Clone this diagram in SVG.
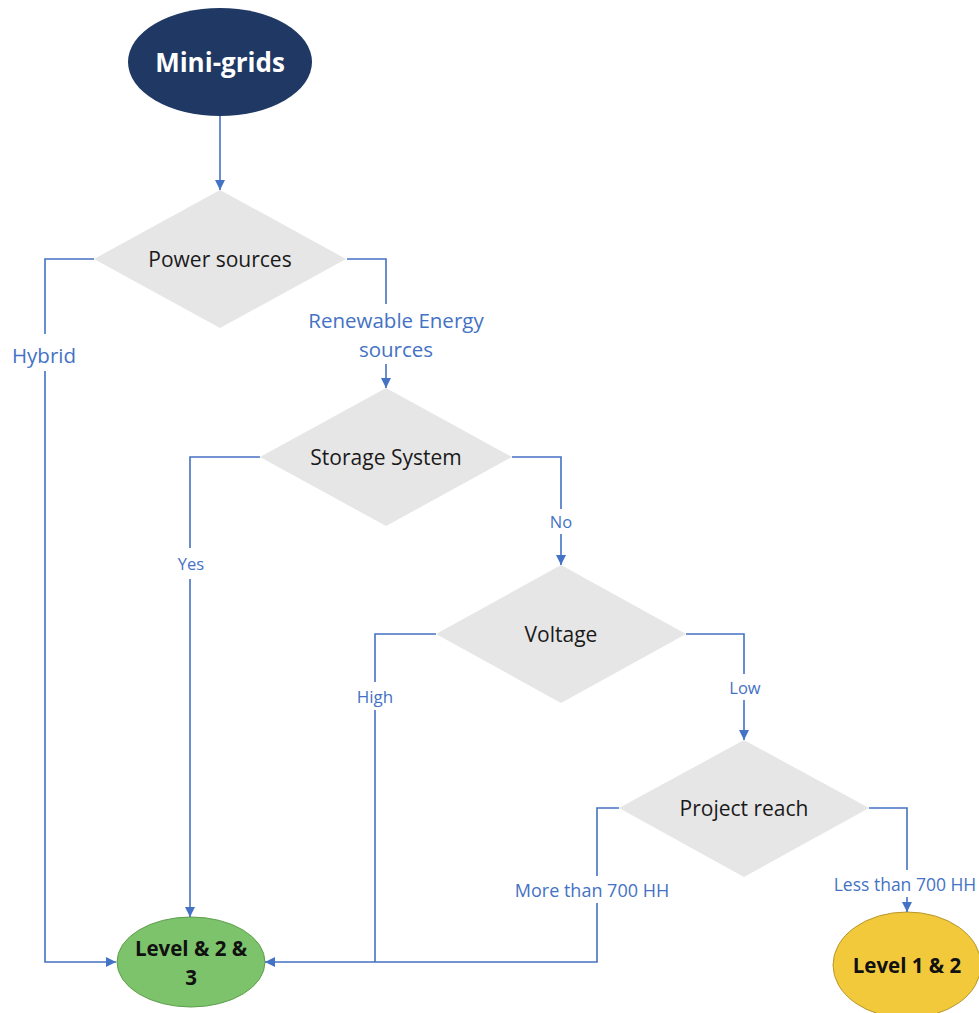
<svg xmlns="http://www.w3.org/2000/svg" width="979" height="1013" viewBox="0 0 979 1013">
  <defs>
    <marker id="arrow" viewBox="0 0 10 10" refX="10" refY="5" markerWidth="10" markerHeight="10" markerUnits="userSpaceOnUse" orient="auto">
      <path d="M0,0 L10,5 L0,10 Z" fill="#4472C4"/>
    </marker>
    <style>
      .bg { fill: #ffffff; }
      .decision { fill: #E7E6E6; stroke: none; }
      .dtext { font-family: "Open Sans", "Noto Sans", sans-serif; font-size: 21px; fill: #1a1a1a; text-anchor: middle; dominant-baseline: central; }
      .link { fill: none; stroke: #4472C4; stroke-width: 1.6; }
      .lbl { font-family: "Open Sans", "Noto Sans", sans-serif; fill: #4472C4; text-anchor: middle; dominant-baseline: central; }
      .term { font-family: "Open Sans", "Noto Sans", sans-serif; font-weight: bold; text-anchor: middle; dominant-baseline: central; }
    </style>
  </defs>

  <rect class="bg" x="0" y="0" width="979" height="1013"/>

  <!-- start terminal -->
  <g id="mini-grids">
    <ellipse cx="220" cy="62" rx="92" ry="54" fill="#1F3864"/>
    <text class="term" x="220" y="62" font-size="26" fill="#ffffff">Mini-grids</text>
  </g>

  <!-- decisions -->
  <g id="power-sources">
    <polygon class="decision" points="220,190 346,259 220,328 94,259"/>
    <text class="dtext" x="220" y="259">Power sources</text>
  </g>
  <g id="storage-system">
    <polygon class="decision" points="386,388 512,457 386,526 260,457"/>
    <text class="dtext" x="386" y="457">Storage System</text>
  </g>
  <g id="voltage">
    <polygon class="decision" points="561,565 686,634 561,703 436,634"/>
    <text class="dtext" x="561" y="634">Voltage</text>
  </g>
  <g id="project-reach">
    <polygon class="decision" points="744,740 869,808 744,877 619,808"/>
    <text class="dtext" x="744" y="808">Project reach</text>
  </g>

  <!-- end terminals -->
  <g id="level-1-2-3">
    <ellipse cx="191" cy="962" rx="74" ry="45" fill="#7DC36B" stroke="#5E9E4C" stroke-width="1"/>
    <text class="term" x="191" y="948" font-size="20.5" fill="#111111">Level &amp; 2 &amp;</text>
    <text class="term" x="191" y="977" font-size="20.5" fill="#111111">3</text>
  </g>
  <g id="level-1-2">
    <ellipse cx="907" cy="965" rx="74" ry="53" fill="#F1C93B" stroke="#B8962E" stroke-width="1"/>
    <text class="term" x="907" y="965" font-size="20.5" fill="#111111">Level 1 &amp; 2</text>
  </g>

  <!-- connectors -->
  <g id="connectors">
    <path class="link" d="M220,116 V190" marker-end="url(#arrow)"/>

    <!-- Power sources: Hybrid -->
    <path class="link" d="M94,259 H45 V334"/>
    <path class="link" d="M45,371 V962 H116" marker-end="url(#arrow)"/>
    <!-- Power sources: Renewable -->
    <path class="link" d="M347,259 H386 V304"/>
    <path class="link" d="M386,364 V388" marker-end="url(#arrow)"/>

    <!-- Storage: Yes -->
    <path class="link" d="M260,457 H190 V548"/>
    <path class="link" d="M190,579 V917" marker-end="url(#arrow)"/>
    <!-- Storage: No -->
    <path class="link" d="M512,457 H561 V509"/>
    <path class="link" d="M561,534 V565" marker-end="url(#arrow)"/>

    <!-- Voltage: High -->
    <path class="link" d="M436,634 H375 V682"/>
    <path class="link" d="M375,710 V962"/>
    <!-- Voltage: Low -->
    <path class="link" d="M686,634 H744 V674"/>
    <path class="link" d="M744,700 V740" marker-end="url(#arrow)"/>

    <!-- Project reach: more than 700 -->
    <path class="link" d="M619,808 H597 V876"/>
    <path class="link" d="M597,903 V962 H265" marker-end="url(#arrow)"/>
    <!-- Project reach: less than 700 -->
    <path class="link" d="M869,808 H907 V870"/>
    <path class="link" d="M907,897 V912" marker-end="url(#arrow)"/>

    <!-- branch labels -->
    <text class="lbl" x="44" y="355" font-size="20.5">Hybrid</text>
    <text class="lbl" x="396" y="320" font-size="20.5">Renewable Energy</text>
    <text class="lbl" x="396" y="349" font-size="20.5">sources</text>
    <text class="lbl" x="191" y="563" font-size="16.5">Yes</text>
    <text class="lbl" x="561" y="521" font-size="16.5">No</text>
    <text class="lbl" x="375" y="696" font-size="17">High</text>
    <text class="lbl" x="745" y="687" font-size="16.5">Low</text>
    <text class="lbl" x="592" y="890" font-size="18">More than 700 HH</text>
    <text class="lbl" x="905" y="884" font-size="17.5">Less than 700 HH</text>
  </g>
</svg>
